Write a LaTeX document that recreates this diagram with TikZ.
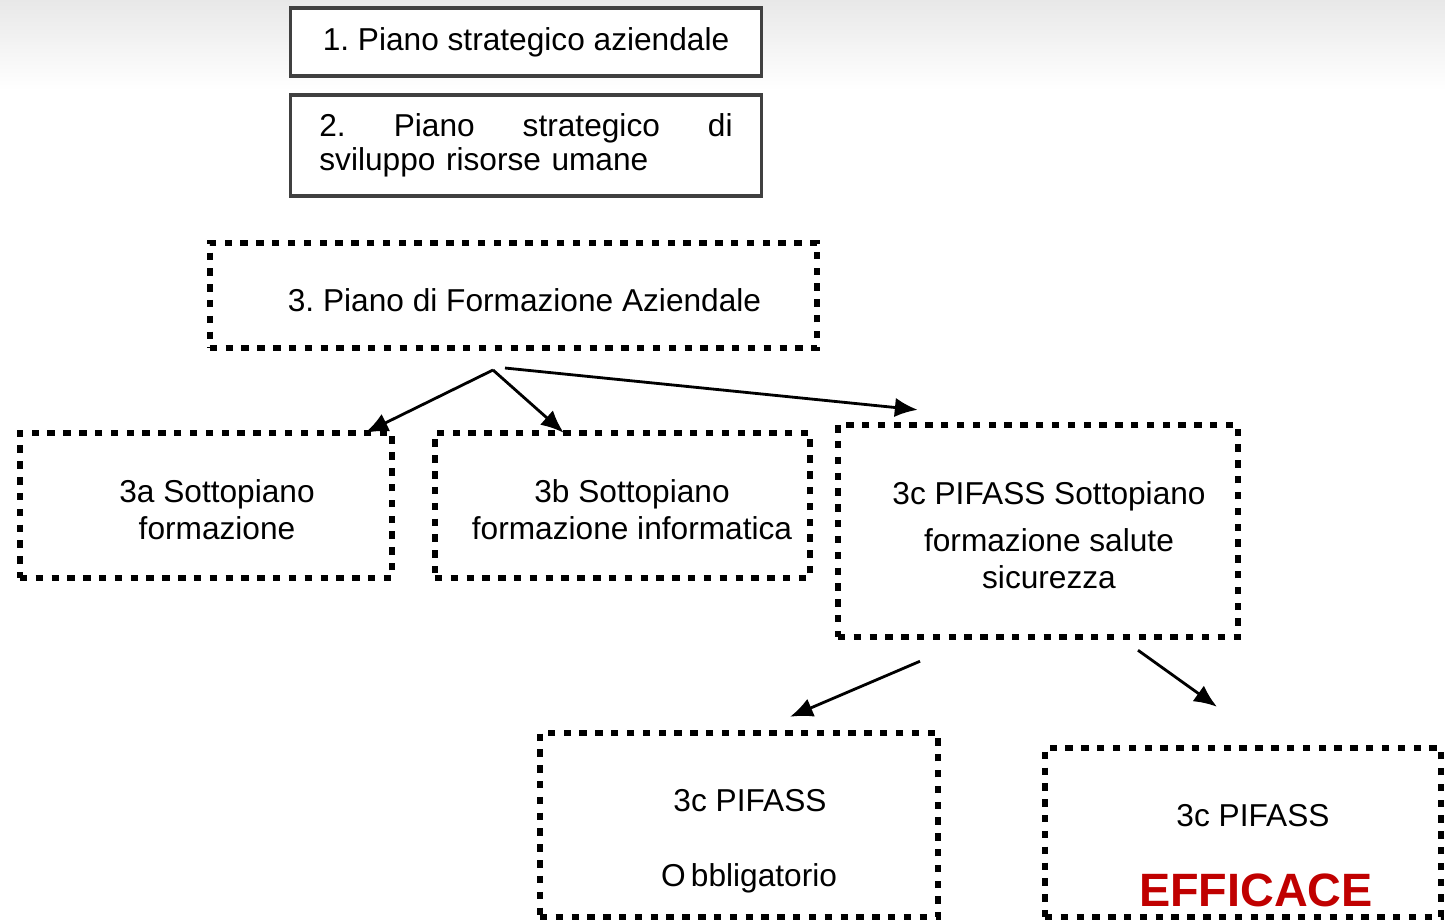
\documentclass[tikz,border=0pt]{standalone}
\usepackage{fontspec}
\setmainfont{Liberation Sans}
\usepackage{xcolor}
\usetikzlibrary{arrows.meta}
\usetikzlibrary{calc}
\definecolor{effred}{RGB}{192,0,0}
\frenchspacing

\begin{document}
\begin{tikzpicture}[x=0.01cm,y=-0.01cm,
        solidbox/.style={rectangle,draw=black!75,line width=0.9pt,inner sep=0pt,font=\fontsize{9}{9.8}\selectfont},
        dotbox/.style={rectangle,draw,line width=1.8pt,dash pattern=on 2.1pt off 2.4pt,inner sep=0pt},
        txt/.style={inner sep=0pt,align=center,font=\fontsize{9}{10.5}\selectfont},
        arr/.style={-{Latex[length=6.5pt,width=5.5pt]},line width=0.8pt}]
                \useasboundingbox (0,0) rectangle (1445,920);
                \shade[top color=black!9,bottom color=white] (0,0) rectangle (1445,90);
                \node[solidbox,minimum width=4.70cm,minimum height=0.68cm,fill=white] (p1) at (526,42) {1. Piano strategico aziendale};
                \node[solidbox,minimum width=4.70cm,minimum height=1.01cm,text width=4.13cm,align=left] (p2) at (526,145.5) {2.\hfill Piano\hfill strategico\hfill di\\sviluppo risorse umane};
                \node[dotbox,minimum width=6.07cm,minimum height=1.05cm] (p3) at (513.5,295.5) {};
                \node[dotbox,minimum width=3.72cm,minimum height=1.45cm] (sa) at (206,505.5) {};
                \node[dotbox,minimum width=3.75cm,minimum height=1.45cm] (sb) at (622.5,505.5) {};
                \node[dotbox,minimum width=4.00cm,minimum height=2.12cm] (sc) at (1038,531) {};
                \node[dotbox,minimum width=3.98cm,minimum height=1.84cm] (ob) at (739,825) {};
                \node[dotbox,minimum width=3.96cm,minimum height=1.69cm] (ef) at (1243,832.5) {};
                \node[txt] (p3t) at (524.5,300) {3. Piano di Formazione Aziendale};
                \node[txt] (sat) at (217,509.5) {3a Sottopiano\\formazione};
                \node[txt] (sbt) at (632,509.5) {3b Sottopiano\\formazione informatica};
                \node[txt] (sct) at (1049,535) {3c PIFASS Sottopiano\\[3pt]formazione salute\\sicurezza};
                \node[txt] (obt) at (750,801) {3c PIFASS};
                \node[txt] (obo) at (749,878) {O\,bbligatorio};
                \node[txt] (eft) at (1253,816) {3c PIFASS};
                \node[inner sep=0pt,font=\fontsize{13.3}{14}\selectfont\bfseries,text=effred] (efe) at (1256,890) {EFFICACE};
                \coordinate (split) at (493,370);
                \draw[arr] (split) -- ($(sa.north east)+(-30,3)$);
                \draw[arr] (split) -- ($(sb.north west)+(132,3)$);
                \draw[arr] ($(split)+(12,-2)$) -- ($(sc.north west)+(83,-12)$);
                \draw[arr] ($(sc.south)+(-118,21)$) -- ($(ob.north)+(51,-13)$);
                \draw[arr] ($(sc.south)+(100,10)$) -- ($(ef.north)+(-26,-38)$);
            \end{tikzpicture}
\end{document}
